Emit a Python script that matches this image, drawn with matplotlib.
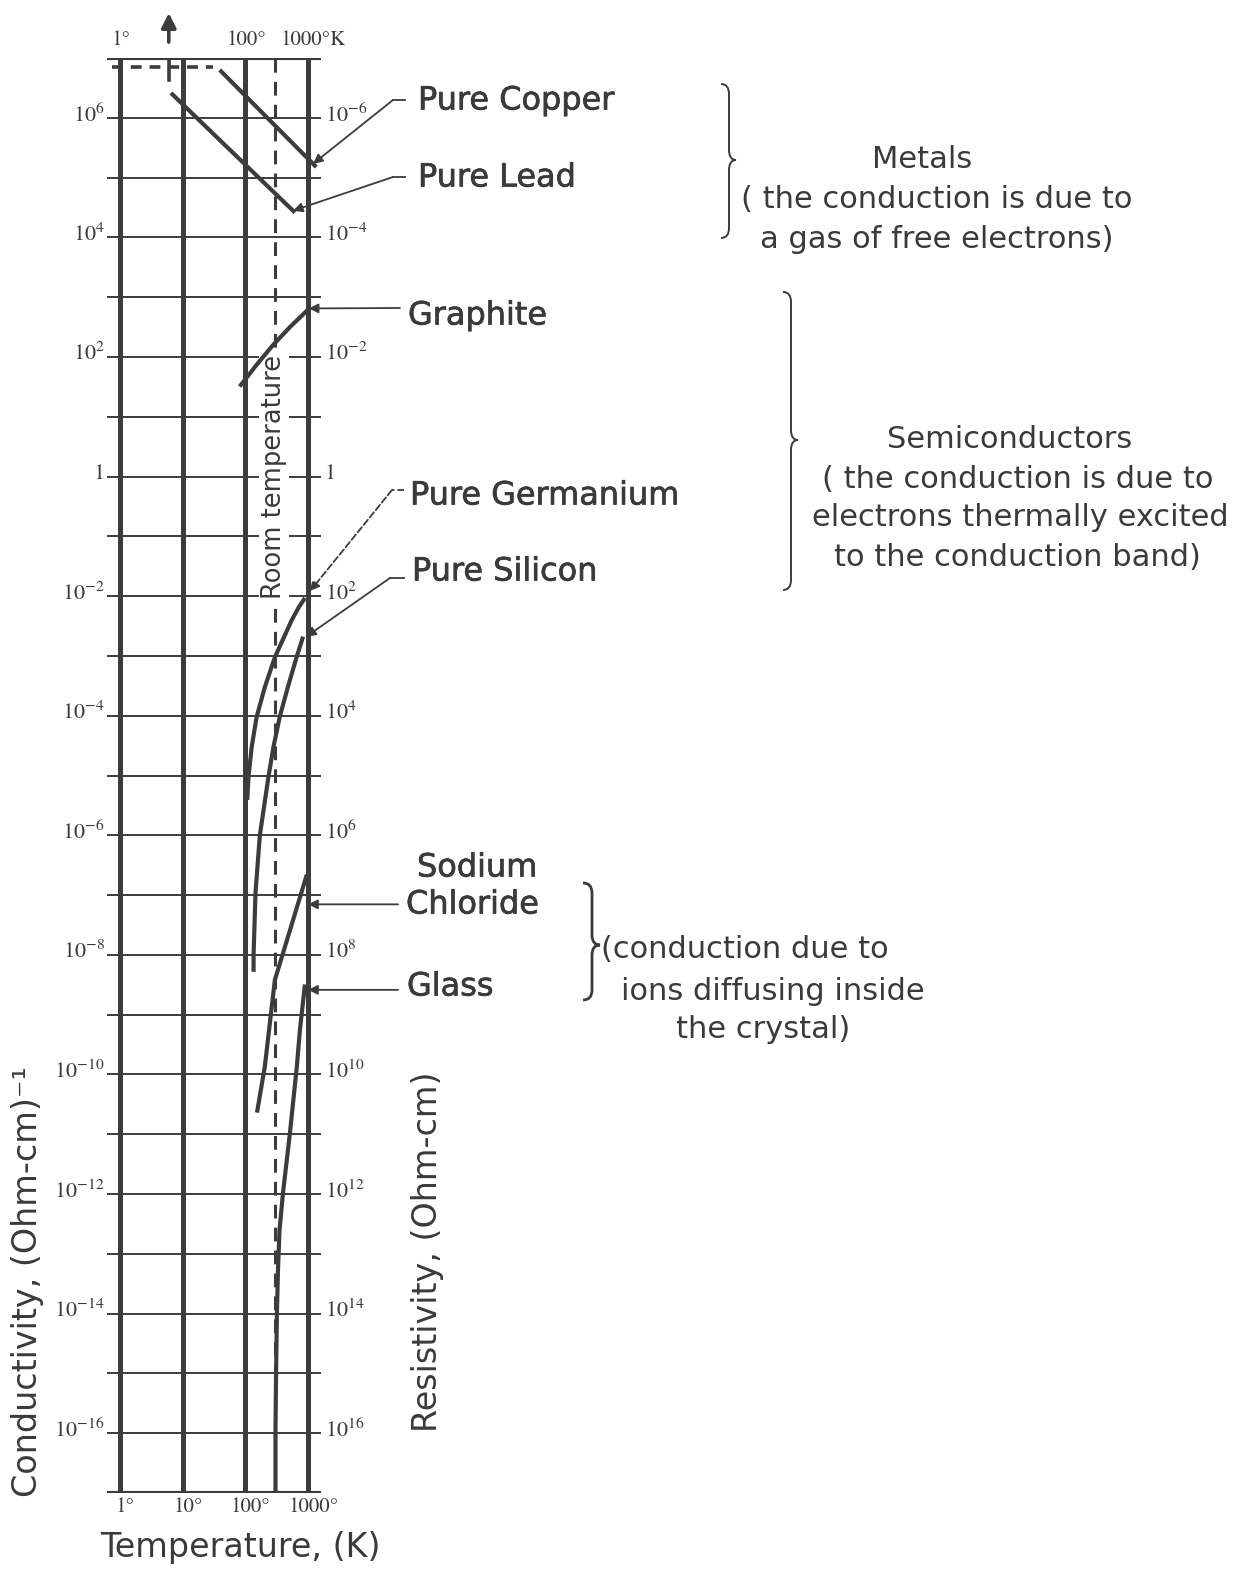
import numpy as np
import matplotlib.pyplot as plt
import matplotlib.patheffects as pe
from matplotlib.path import Path
from matplotlib.patches import PathPatch

plt.rcParams['mathtext.fontset'] = 'stix'

# values: temperature (K) and conductivity (Ohm-cm)^-1
copper_T = [39, 1350]
copper_sigma = [6.3e6, 1.5e5]
lead_T = [6.5, 617]
lead_sigma = [2.6e6, 2.6e4]
lead_sc_T = [0.74, 30]          # superconducting lead (dashed, top)
lead_sc_sigma = [7.0e6, 7.0e6]
lead_tc = 6.0
graphite_T = [81, 151, 275, 513, 995]
graphite_sigma = [32, 74, 158, 316, 617]
germanium_T = [891, 716, 550, 295, 204, 151, 126, 112, 107]
germanium_sigma = [9.3e-3, 6.6e-3, 4.0e-3, 9.5e-4, 3.0e-4, 9.5e-5, 3.0e-5, 9.5e-6, 3.9e-6]
silicon_T = [832, 661, 479, 355, 282, 234, 170, 145, 135, 135]
silicon_sigma = [2.1e-3, 9.8e-4, 3.1e-4, 9.8e-5, 3.1e-5, 9.8e-6, 1.0e-6, 1.1e-7, 1.0e-8, 5.2e-9]
nacl_T = [955, 295, 204, 153]
nacl_sigma = [2.2e-7, 3.8e-9, 1.35e-10, 2.3e-11]
glass_T = [891, 741, 661, 513, 398, 350, 331, 318, 309, 302, 302]
glass_sigma = [3.2e-9, 5.6e-10, 1.35e-10, 1.05e-11, 1.05e-12, 2.5e-13, 5.4e-14,
               1.0e-14, 1.15e-15, 1.15e-16, 1e-17]
room_T = 300

cond_exp = [6, 4, 2, 0, -2, -4, -6, -8, -10, -12, -14, -16]
grid_exp = list(range(-16, 7))
temp_lines = [1, 10, 100, 1000]

W, H = 1254, 1580
C = '#3c3c3c'
TXT = '#3a3a3a'

fig = plt.figure(figsize=(W / 100, H / 100), dpi=100)
fig.patch.set_facecolor('white')

# overlay axes in pixel units (y down) for free text and braces
ov = fig.add_axes([0, 0, 1, 1])
ov.set_xlim(0, W)
ov.set_ylim(H, 0)
ov.axis('off')

# main chart: log T from -0.2 to 3.2 decades, log sigma from -17 to 7
dec_x = 62.7
left = 120 - 0.2 * dec_x
ax = fig.add_axes([left / W, 1 - 1493 / H, 3.4 * dec_x / W, 1435 / H])
ax.set_xscale('log')
ax.set_yscale('log')
x0, x1 = 10 ** -0.2, 10 ** 3.2
ax.set_xlim(x0, x1)
ax.set_ylim(1e-17, 1e7)
ax.axis('off')
ax.patch.set_alpha(0)

# grid
ax.hlines([10.0 ** e for e in grid_exp], x0, x1, color=C, lw=1.4, zorder=2)
ax.hlines([1e7, 1e-17], x0, x1, color=C, lw=3.0, zorder=4)
for t in temp_lines:
    ax.plot([t, t], [1e-17, 1e7], color=C, lw=3.6, zorder=4, solid_capstyle='butt')

# room temperature
ax.plot([room_T, room_T], [1e-17, 1e7], color=C, lw=2.2, ls=(0, (4.5, 3)), zorder=3)
ax.text(room_T * 0.94, 1.0, 'Room temperature', rotation=90, ha='center', va='center',
        fontsize=18.5, color=TXT, zorder=3.5,
        bbox=dict(facecolor='white', edgecolor='none', pad=1.5))

# superconducting lead
ax.plot(lead_sc_T, lead_sc_sigma, color=C, lw=2.6, ls=(0, (3, 2.2)), zorder=5, clip_on=False)
ax.plot([lead_tc, lead_tc], [1e7, 4.3e6], color=C, lw=2.6, zorder=5)
ax.annotate('', xy=(lead_tc, 10 ** 7.8), xytext=(lead_tc, 10 ** 7.22),
            arrowprops=dict(arrowstyle='-|>', color=C, lw=2.6, mutation_scale=22),
            annotation_clip=False)

# curves
for T, s in [(copper_T, copper_sigma), (lead_T, lead_sigma), (graphite_T, graphite_sigma),
             (germanium_T, germanium_sigma), (silicon_T, silicon_sigma),
             (nacl_T, nacl_sigma), (glass_T, glass_sigma)]:
    ax.plot(T, s, color=C, lw=3.0, zorder=6, clip_on=False, solid_capstyle='butt',
            solid_joinstyle='round')

# tick labels
for e in cond_exp:
    val = 10.0 ** e
    lab_l = '1' if e == 0 else r'$10^{%d}$' % e
    lab_r = '1' if e == 0 else r'$10^{%d}$' % (-e)
    ax.annotate(lab_l, xy=(x0, val), xytext=(-2, 2), textcoords='offset points',
                ha='right', va='center', fontsize=16, color=TXT, family='STIXGeneral')
    ax.annotate(lab_r, xy=(x1, val), xytext=(3, 2), textcoords='offset points',
                ha='left', va='center', fontsize=16, color=TXT, family='STIXGeneral')

for t, lab in [(1, '1°'), (100, '100°'), (1000, '1000°K')]:
    ax.annotate(lab, xy=(t, 1e7), xytext=(1 if t < 1000 else 4, 13), textcoords='offset points',
                ha='center', va='center', fontsize=15, color=TXT, family='STIXGeneral')
for t, lab in [(1, '1°'), (10, '10°'), (100, '100°'), (1000, '1000°')]:
    ax.annotate(lab, xy=(t, 1e-17), xytext=(4, -10), textcoords='offset points',
                ha='center', va='center', fontsize=15, color=TXT, family='STIXGeneral')

# material labels
bold = [pe.withStroke(linewidth=0.5, foreground=TXT)]
labels = [('Pure Copper', 418, 101), ('Pure Lead', 418, 178), ('Graphite', 408, 316),
          ('Pure Germanium', 410, 496), ('Pure Silicon', 412, 572),
          ('Sodium', 417, 868), ('Chloride', 406, 905), ('Glass', 407, 987)]
for s, x, y in labels:
    ov.text(x, y, s, ha='left', va='center', fontsize=23, color=TXT, path_effects=bold)


def curve_at(T, Ts, ss):
    return 10 ** np.interp(np.log10(T), np.log10(Ts), np.log10(ss))


arrow = dict(arrowstyle='-|>', color=C, lw=1.3, mutation_scale=14, shrinkA=0, shrinkB=0)
# bent connectors: short horizontal near the label then a diagonal arrow
bent = [((405, 100), (393, 100), (1200, curve_at(1200, copper_T, copper_sigma)), '-'),
        ((405, 177), (393, 177), (575, curve_at(575, lead_T, lead_sigma)), '-'),
        ((404, 490), (392, 490), (germanium_T[0] * 1.2, germanium_sigma[0] * 1.3), '--'),
        ((404, 578), (390, 578), (silicon_T[0] * 1.12, silicon_sigma[0]), '-')]
for a, b, xy, ls in bent:
    ov.plot([a[0], b[0]], [a[1], b[1]], color=C, lw=1.3, ls=ls)
    ax.annotate('', xy=xy, xytext=(b[0], H - b[1]), textcoords='figure pixels',
                arrowprops=dict(arrow, ls=ls), annotation_clip=False)
ax.annotate('', xy=(graphite_T[-1] * 1.03, graphite_sigma[-1] * 1.05), xytext=(400, H - 308),
            textcoords='figure pixels', arrowprops=arrow, annotation_clip=False)
for s in [7e-8, 2.6e-9]:
    ax.annotate('', xy=(1000, s), xytext=(398, s), textcoords=('figure pixels', 'data'),
                arrowprops=arrow, annotation_clip=False)


def brace(x, y0, y1, ytip, w=8, tip=7, lw=1.4):
    r = 10
    verts = [(x - w, y0), (x, y0), (x, y0 + r), (x, ytip - r), (x, ytip), (x + tip, ytip),
             (x, ytip), (x, ytip + r), (x, y1 - r), (x, y1), (x - w, y1)]
    codes = [Path.MOVETO, Path.CURVE3, Path.CURVE3, Path.LINETO, Path.CURVE3, Path.CURVE3,
             Path.CURVE3, Path.CURVE3, Path.LINETO, Path.CURVE3, Path.CURVE3]
    ov.add_patch(PathPatch(Path(verts, codes), fill=False, edgecolor=C, lw=lw))


brace(729, 84, 238, 160)
brace(791, 292, 590, 440)
brace(592, 883, 1000, 945, w=9, tip=8, lw=2.0)

desc = [('Metals', 922, 160), ('( the conduction is due to', 937, 200),
        ('a gas of free electrons)', 937, 240),
        ('Semiconductors', 1010, 440), ('( the conduction is due to', 1018, 480),
        ('electrons thermally excited', 1020, 518), ('to the conduction band)', 1017, 558),
        ('(conduction due to', 745, 950), ('ions diffusing inside', 773, 992),
        ('the crystal)', 763, 1030)]
for s, x, y in desc:
    ov.text(x, y, s, ha='center', va='center', fontsize=22, color=TXT)

ov.text(28, 1282, 'Conductivity, (Ohm-cm)⁻¹', rotation=90, ha='center', va='center',
        fontsize=24, color=TXT)
ov.text(428, 1252, 'Resistivity, (Ohm-cm)', rotation=90, ha='center', va='center',
        fontsize=24, color=TXT)
ov.text(240, 1548, 'Temperature, (K)', ha='center', va='center', fontsize=24, color=TXT)

fig.savefig('out.png', dpi=100, facecolor='white')
